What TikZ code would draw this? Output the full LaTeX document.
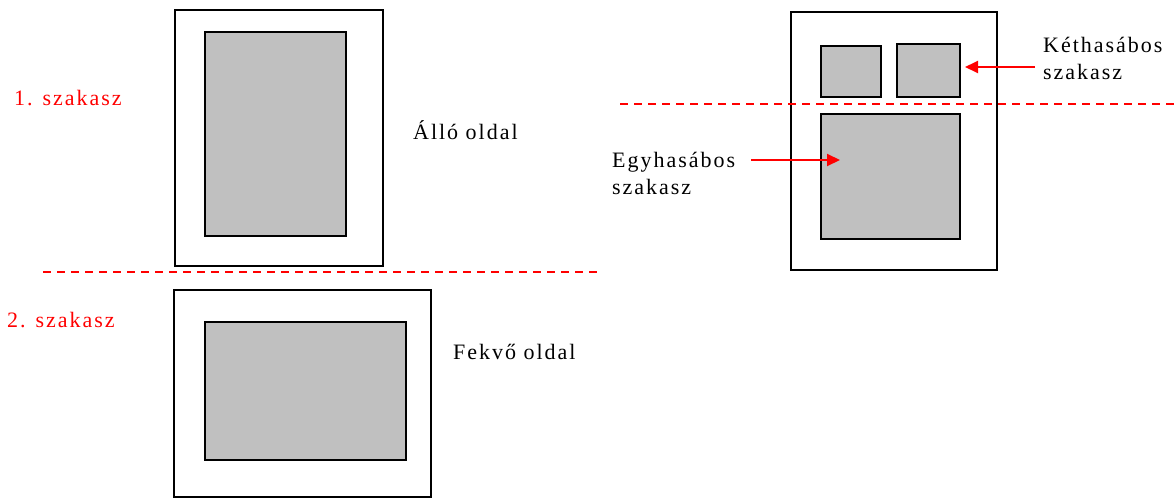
\documentclass[tikz,border=0pt]{standalone}
\usepackage{fontspec}
\setmainfont{Liberation Serif}[LetterSpace=9]
\usetikzlibrary{arrows.meta}
\definecolor{boxgray}{HTML}{C0C0C0}
\definecolor{pagered}{HTML}{FF0000}
\tikzset{
  page/.style={draw=black,line width=1.5pt,fill=white},
  block/.style={draw=black,line width=1.5pt,fill=boxgray},
  cut/.style={draw=pagered,line width=1.5pt,dash pattern=on 8pt off 6pt},
  pointer/.style={draw=pagered,line width=2pt,-{Triangle[length=13pt,width=12pt]}},
  lbl/.style={inner sep=0pt,font=\fontsize{22}{27}\selectfont,align=left},
  redlbl/.style={lbl,text=pagered}
}
\begin{document}
\begin{tikzpicture}[x=1pt,y=-1pt]
\useasboundingbox (0,0) rectangle (1174,501);
% left portrait page
\draw[page] (175,10) rectangle (383,266);
\draw[block] (205,32) rectangle (346,236);
% left landscape page
\draw[page] (174,290) rectangle (431,497);
\draw[block] (205,322) rectangle (406,460);
% dashed section break left
\coordinate (c1a) at (43,272);
\coordinate (c1b) at (598,272);
\draw[cut] (c1a) -- (c1b);
% right page
\draw[page] (791,12) rectangle (997,270);
\draw[block] (821,46) rectangle (881,97);
\draw[block] (897,44) rectangle (960,97);
\draw[block] (821,114) rectangle (960,239);
\coordinate (c2a) at (620,104);
\coordinate (c2b) at (1174,104);
\draw[cut] (c2a) -- (c2b);
% labels
\node[redlbl,anchor=west] (sz1) at (14,98) {1. szakasz};
\node[redlbl,anchor=west] (sz2) at (7,320) {2. szakasz};
\node[lbl,anchor=west] (allo) at (413,130) {Álló oldal};
\node[lbl,anchor=west] (fekvo) at (453,352) {Fekvő oldal};
\node[lbl,anchor=west] (ket) at (1043,58) {Kéthasábos\\szakasz};
\node[lbl,anchor=west] (egy) at (612,173) {Egyhasábos\\szakasz};
% arrows
\coordinate (k1) at (1035,67);
\coordinate (k2) at (965,67);
\draw[pointer] (k1) -- (k2);
\coordinate (e1) at (751,160);
\coordinate (e2) at (840,160);
\draw[pointer] (e1) -- (e2);
\end{tikzpicture}
\end{document}
